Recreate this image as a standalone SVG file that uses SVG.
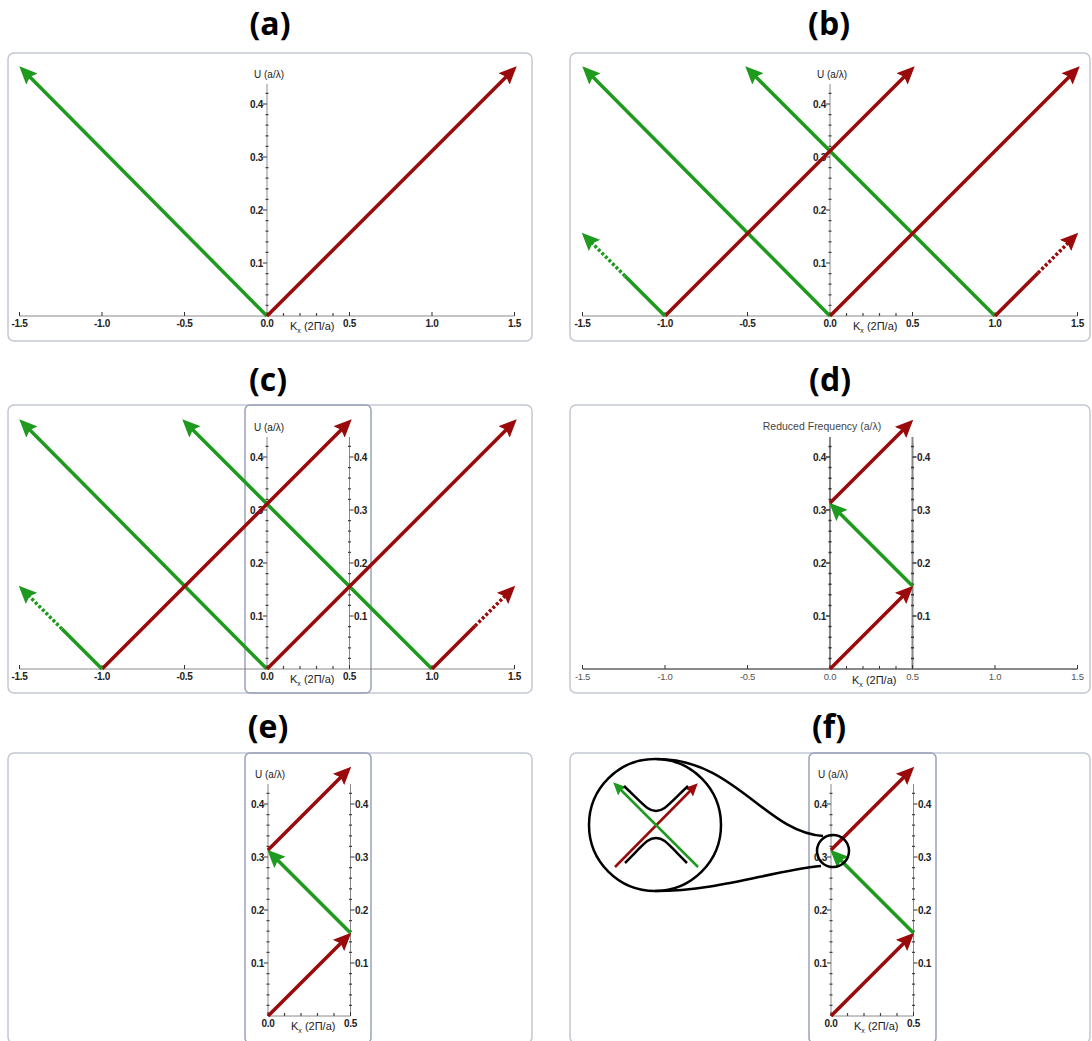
<svg xmlns="http://www.w3.org/2000/svg" xmlns:xlink="http://www.w3.org/1999/xlink" width="1092" height="1041" viewBox="0 0 1092 1041">
<style>
.title{font-family:"Open Sans","Liberation Sans",sans-serif;font-weight:bold;font-size:32px;fill:#000;text-anchor:middle}
.frame{fill:#fff;stroke:#c3c7d4;stroke-width:1.5}
.box{fill:none;stroke:#9ba1b9;stroke-width:1.5}
.ax{stroke:#8a8a8a;stroke-width:1;fill:none}
.tk{stroke:#333;stroke-width:1;fill:none}
.mt{stroke:#444;stroke-width:1.2;fill:none}
.lbl{font-family:"Liberation Sans",Arial,sans-serif;font-weight:bold;font-size:10px;fill:#222;letter-spacing:-0.3px}
.lend{text-anchor:end}
.lmid{text-anchor:middle}
.name{font-family:"Liberation Sans",Arial,sans-serif;font-size:10px;fill:#222}
.kname{font-family:"Liberation Sans",Arial,sans-serif;font-size:11px;fill:#222}
.g{stroke:#1e9a1e;stroke-width:3.5;fill:none;marker-end:url(#ag)}
.r{stroke:#9a0a0a;stroke-width:3.5;fill:none;marker-end:url(#ar)}
.gn{stroke:#1e9a1e;stroke-width:3.5;fill:none}
.rn{stroke:#9a0a0a;stroke-width:3.5;fill:none}
.dot{stroke-dasharray:3 2}
.d-ax{stroke:#888;stroke-width:2;fill:none}
.d-tk{stroke:#333;stroke-width:1.5;fill:none}
.d-lbl{font-family:"Liberation Sans",Arial,sans-serif;font-size:9.5px;fill:#555;letter-spacing:-0.3px}
.d-name{font-family:"Liberation Sans",Arial,sans-serif;font-size:10.5px;fill:#444;text-anchor:middle}
.ink{stroke:#000;stroke-width:2.5;fill:none}
.gi{stroke:#1e9a1e;stroke-width:2.5;fill:none;marker-end:url(#ags)}
.ri{stroke:#9a0a0a;stroke-width:2.5;fill:none;marker-end:url(#ars)}
</style>
<defs>
<marker id="ag" markerUnits="userSpaceOnUse" markerWidth="18" markerHeight="16" viewBox="0 0 18 16" refX="12" refY="8" orient="auto"><path d="M0,0 L18,8 L0,16 L3,8 z" fill="#1e9a1e"/></marker>
<marker id="ar" markerUnits="userSpaceOnUse" markerWidth="18" markerHeight="16" viewBox="0 0 18 16" refX="12" refY="8" orient="auto"><path d="M0,0 L18,8 L0,16 L3,8 z" fill="#9a0a0a"/></marker>
<marker id="ags" markerUnits="userSpaceOnUse" markerWidth="13" markerHeight="12" viewBox="0 0 13 12" refX="9" refY="6" orient="auto"><path d="M0,0 L13,6 L0,12 L2,6 z" fill="#1e9a1e"/></marker>
<marker id="ars" markerUnits="userSpaceOnUse" markerWidth="13" markerHeight="12" viewBox="0 0 13 12" refX="9" refY="6" orient="auto"><path d="M0,0 L13,6 L0,12 L2,6 z" fill="#9a0a0a"/></marker>

<g id="yL">
<path class="ax" d="M0,0 V-232"/>
<path class="tk" d="M-4,-53h4 M-4,-106h4 M-4,-159h4 M-4,-212h4"/>
<path class="mt" d="M-1.5,-10.6h3 M-1.5,-21.2h3 M-1.5,-31.8h3 M-1.5,-42.4h3 M-1.5,-63.6h3 M-1.5,-74.2h3 M-1.5,-84.8h3 M-1.5,-95.4h3 M-1.5,-116.6h3 M-1.5,-127.2h3 M-1.5,-137.8h3 M-1.5,-148.4h3 M-1.5,-169.6h3 M-1.5,-180.2h3 M-1.5,-190.8h3 M-1.5,-201.4h3 M-1.5,-222.6h3"/>
<text class="lbl lend" x="-4" y="-49.5">0.1</text>
<text class="lbl lend" x="-4" y="-102.5">0.2</text>
<text class="lbl lend" x="-4" y="-155.5">0.3</text>
<text class="lbl lend" x="-4" y="-208.5">0.4</text>
<text class="name" x="-13" y="-238">U (a/λ)</text>
</g>
<g id="yR">
<path class="ax" d="M82.5,0 V-232"/>
<path class="tk" d="M82.5,-53h4 M82.5,-106h4 M82.5,-159h4 M82.5,-212h4"/>
<path class="mt" d="M81,-10.6h3 M81,-21.2h3 M81,-31.8h3 M81,-42.4h3 M81,-63.6h3 M81,-74.2h3 M81,-84.8h3 M81,-95.4h3 M81,-116.6h3 M81,-127.2h3 M81,-137.8h3 M81,-148.4h3 M81,-169.6h3 M81,-180.2h3 M81,-190.8h3 M81,-201.4h3 M81,-222.6h3"/>
<text class="lbl" x="87" y="-49.5">0.1</text>
<text class="lbl" x="87" y="-102.5">0.2</text>
<text class="lbl" x="87" y="-155.5">0.3</text>
<text class="lbl" x="87" y="-208.5">0.4</text>
</g>
<g id="xFull">
<path class="ax" d="M-247.5,0 H247.5"/>
<path class="tk" d="M-247.5,0v-4 M-165,0v-4 M-82.5,0v-4 M0,0v-4 M82.5,0v-4 M165,0v-4 M247.5,0v-4"/>
<path class="mt" d="M16.5,0v-3 M33,0v-3 M49.5,0v-3 M66,0v-3"/>
<text class="lbl lmid" x="-247.5" y="11">-1.5</text>
<text class="lbl lmid" x="-165" y="11">-1.0</text>
<text class="lbl lmid" x="-82.5" y="11">-0.5</text>
<text class="lbl lmid" x="0" y="11">0.0</text>
<text class="lbl lmid" x="82.5" y="11">0.5</text>
<text class="lbl lmid" x="165" y="11">1.0</text>
<text class="lbl lmid" x="247.5" y="11">1.5</text>
<text class="kname" x="23" y="14">K<tspan font-size="7" dy="3">x</tspan><tspan dy="-3"> (2Π/a)</tspan></text>
</g>
<g id="xShort">
<path class="ax" d="M0,0 H82.5"/>
<path class="tk" d="M0,0v-4 M82.5,0v-4"/>
<path class="mt" d="M16.5,0v-3 M33,0v-3 M49.5,0v-3 M66,0v-3"/>
<text class="lbl lmid" x="0" y="11">0.0</text>
<text class="lbl lmid" x="82.5" y="11">0.5</text>
<text class="kname" x="23" y="14">K<tspan font-size="7" dy="3">x</tspan><tspan dy="-3"> (2Π/a)</tspan></text>
</g>
</defs>

<g id="titles">
<text class="title" x="270" y="35">(a)</text>
<text class="title" x="829" y="35">(b)</text>
<text class="title" x="268" y="391">(c)</text>
<text class="title" x="830" y="391">(d)</text>
<text class="title" x="268" y="738">(e)</text>
<text class="title" x="829" y="738">(f)</text>
</g>

<g id="panel-a">
<rect class="frame" x="8" y="53" width="524" height="288" rx="6"/>
<g transform="translate(267,316)">
<use xlink:href="#yL"/>
<use xlink:href="#xFull"/>
<g id="connectors-a">
<path class="g" d="M0,0 L-243.5,-245.5"/>
<path class="r" d="M0,0 L245.5,-245.5"/>
</g>
</g>
</g>

<g id="panel-b">
<rect class="frame" x="570" y="53" width="520" height="288" rx="6"/>
<g transform="translate(830,316)">
<use xlink:href="#yL"/>
<use xlink:href="#xFull"/>
<g id="connectors-b">
<path class="g" d="M0,0 L-243.5,-245.5"/>
<path class="g" d="M165,0 L-80.5,-245.5"/>
<path class="r" d="M-165,0 L80.5,-245.5"/>
<path class="r" d="M0,0 L245.5,-245.5"/>
<path class="gn" d="M-165,0 L-205,-40"/>
<path class="g dot" d="M-205,-40 L-244,-79"/>
<path class="rn" d="M165,0 L208,-43"/>
<path class="r dot" d="M208,-43 L244,-79"/>
</g>
</g>
</g>

<g id="panel-c">
<rect class="frame" x="8" y="405" width="524" height="288" rx="6"/>
<rect class="box" x="245" y="405" width="126" height="288" rx="5"/>
<g transform="translate(267,669)">
<use xlink:href="#yL"/>
<use xlink:href="#yR"/>
<use xlink:href="#xFull"/>
<g id="connectors-c">
<path class="g" d="M0,0 L-243.5,-245.5"/>
<path class="g" d="M165,0 L-80.5,-245.5"/>
<path class="r" d="M-165,0 L80.5,-245.5"/>
<path class="r" d="M0,0 L245.5,-245.5"/>
<path class="gn" d="M-165,0 L-205,-40"/>
<path class="g dot" d="M-205,-40 L-244,-79"/>
<path class="rn" d="M165,0 L208,-43"/>
<path class="r dot" d="M208,-43 L244,-79"/>
</g>
</g>
</g>

<g id="panel-d">
<rect class="frame" x="570" y="405" width="520" height="288" rx="6"/>
<g transform="translate(830,669)">
<path class="d-ax" d="M0,0 V-232 M82.5,0 V-232 M-247.5,0 H247.5"/>
<path class="d-tk" d="M-4,-53h4 M-4,-106h4 M-4,-159h4 M-4,-212h4 M82.5,-53h4 M82.5,-106h4 M82.5,-159h4 M82.5,-212h4"/>
<path class="d-tk" d="M-1.5,-10.6h3 M-1.5,-21.2h3 M-1.5,-31.8h3 M-1.5,-42.4h3 M-1.5,-63.6h3 M-1.5,-74.2h3 M-1.5,-84.8h3 M-1.5,-95.4h3 M-1.5,-116.6h3 M-1.5,-127.2h3 M-1.5,-137.8h3 M-1.5,-148.4h3 M-1.5,-169.6h3 M-1.5,-180.2h3 M-1.5,-190.8h3 M-1.5,-201.4h3 M-1.5,-222.6h3 M81,-10.6h3 M81,-21.2h3 M81,-31.8h3 M81,-42.4h3 M81,-63.6h3 M81,-74.2h3 M81,-84.8h3 M81,-95.4h3 M81,-116.6h3 M81,-127.2h3 M81,-137.8h3 M81,-148.4h3 M81,-169.6h3 M81,-180.2h3 M81,-190.8h3 M81,-201.4h3 M81,-222.6h3"/>
<path class="tk" d="M-247.5,0v-4 M-165,0v-4 M-82.5,0v-4 M0,0v-4 M82.5,0v-4 M165,0v-4 M247.5,0v-4 M16.5,0v-3 M33,0v-3 M49.5,0v-3 M66,0v-3"/>
<text class="lbl lend" x="-4" y="-49.5">0.1</text>
<text class="lbl lend" x="-4" y="-102.5">0.2</text>
<text class="lbl lend" x="-4" y="-155.5">0.3</text>
<text class="lbl lend" x="-4" y="-208.5">0.4</text>
<text class="lbl" x="87" y="-49.5">0.1</text>
<text class="lbl" x="87" y="-102.5">0.2</text>
<text class="lbl" x="87" y="-155.5">0.3</text>
<text class="lbl" x="87" y="-208.5">0.4</text>
<text class="d-lbl lmid" x="-247.5" y="11">-1.5</text>
<text class="d-lbl lmid" x="-165" y="11">-1.0</text>
<text class="d-lbl lmid" x="-82.5" y="11">-0.5</text>
<text class="d-lbl lmid" x="0" y="11">0.0</text>
<text class="d-lbl lmid" x="82.5" y="11">0.5</text>
<text class="d-lbl lmid" x="165" y="11">1.0</text>
<text class="d-lbl lmid" x="247.5" y="11">1.5</text>
<text class="kname" x="22" y="15" fill="#444">K<tspan font-size="7" dy="3">x</tspan><tspan dy="-3"> (2Π/a)</tspan></text>
<text class="d-name" x="-8" y="-239">Reduced Frequency (a/λ)</text>
<g id="connectors-d">
<path class="r" d="M0,0 L79,-79"/>
<path class="g" d="M82.5,-83 L3.5,-162"/>
<path class="r" d="M0,-166 L79,-245"/>
</g>
</g>
</g>

<g id="panel-e">
<rect class="frame" x="8" y="753" width="524" height="290" rx="6"/>
<rect class="box" x="245" y="753" width="126" height="290" rx="5"/>
<g transform="translate(268,1016)">
<use xlink:href="#yL"/>
<use xlink:href="#yR"/>
<use xlink:href="#xShort"/>
<g id="connectors-e">
<path class="r" d="M0,0 L79,-79"/>
<path class="g" d="M82.5,-83 L3.5,-162"/>
<path class="r" d="M0,-166 L79,-245"/>
</g>
</g>
</g>

<g id="panel-f">
<rect class="frame" x="570" y="753" width="520" height="290" rx="6"/>
<rect class="box" x="809" y="753" width="127" height="290" rx="5"/>
<g transform="translate(831,1016)">
<use xlink:href="#yL"/>
<use xlink:href="#yR"/>
<use xlink:href="#xShort"/>
<g id="connectors-f">
<path class="r" d="M0,0 L79,-79"/>
<path class="g" d="M82.5,-83 L3.5,-162"/>
<path class="r" d="M0,-166 L79,-245"/>
</g>
</g>
<g id="magnifier">
<circle class="ink" cx="833" cy="851" r="16"/>
<circle class="ink" cx="655" cy="825" r="66"/>
<path class="ink" d="M657,759 C735,759 765,832 823,836"/>
<path class="ink" d="M655,891 C720,891 770,871 821,866"/>
<path class="ri" d="M615,867 L695,786"/>
<path class="gi" d="M698,867 L616,785"/>
<path class="ink" d="M624,786 C645,806 648,811 656,811 C664,811 667,806 688,786"/>
<path class="ink" d="M625,863 C645,843 648,838 656,838 C664,838 667,843 687,863"/>
</g>
</g>
</svg>
